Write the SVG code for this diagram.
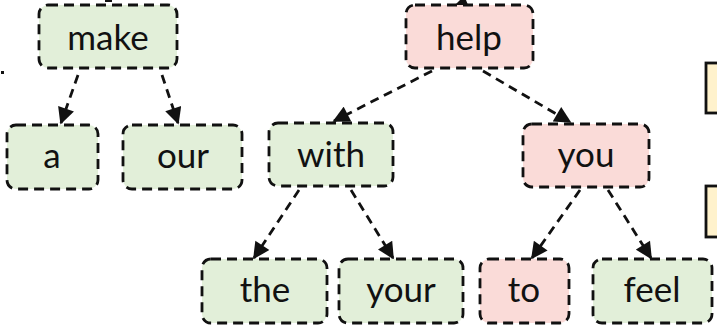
<svg xmlns="http://www.w3.org/2000/svg" width="717" height="325" viewBox="0 0 717 325">
<defs>
<style>
.box{stroke:#111;stroke-width:2.8;stroke-dasharray:10 6;}
.g{fill:#e2efd9;}
.p{fill:#fadbd8;}
.y{fill:#fff2cc;stroke:#111;stroke-width:2.8;}
.t{font-family:Lato,"Open Sans",sans-serif;font-size:35px;fill:#111;text-anchor:middle;}
.e{stroke:#111;stroke-width:2.8;stroke-dasharray:9 6;fill:none;marker-end:url(#ah);}
</style>
<marker id="ah" viewBox="0 0 10 10" refX="9" refY="5" markerWidth="6.5" markerHeight="6" orient="auto" markerUnits="strokeWidth">
<path d="M0,0 L10,5 L0,10 z" fill="#111"/>
</marker>
</defs>
<rect width="717" height="325" fill="#fff"/>
<g id="partial">
<path d="M455,5 L460,0 L466,0 L468,5 z" fill="#111"/>
<line x1="105" y1="1" x2="112" y2="1" stroke="#111" stroke-width="2"/>
<rect x="1" y="71" width="3" height="3" fill="#111"/>
<rect class="y" x="706" y="63" width="20" height="50"/>
<rect class="y" x="706" y="186" width="20" height="51"/>
</g>
<g id="edges">
<line class="e" x1="78" y1="75" x2="61" y2="123"/>
<line class="e" x1="162" y1="75" x2="178" y2="123"/>
<line class="e" x1="432" y1="71" x2="334" y2="121"/>
<line class="e" x1="483" y1="71" x2="570" y2="122"/>
<line class="e" x1="299" y1="190" x2="254" y2="258"/>
<line class="e" x1="351" y1="190" x2="393" y2="258"/>
<line class="e" x1="580" y1="190" x2="532" y2="258"/>
<line class="e" x1="608" y1="190" x2="651" y2="258"/>
</g>
<g id="make"><rect class="box g" x="39" y="5" width="138" height="63" rx="9"/><text class="t" x="108" y="50">make</text></g>
<g id="help"><rect class="box p" x="406" y="5" width="127" height="63" rx="9"/><text class="t" x="469" y="50">help</text></g>
<g id="a"><rect class="box g" x="7" y="125" width="91" height="64" rx="9"/><text class="t" x="52" y="168">a</text></g>
<g id="our"><rect class="box g" x="123" y="125" width="119" height="64" rx="9"/><text class="t" x="183" y="168">our</text></g>
<g id="with"><rect class="box g" x="269" y="123" width="124" height="63" rx="9"/><text class="t" x="331" y="167">with</text></g>
<g id="you"><rect class="box p" x="523" y="124" width="126" height="63" rx="9"/><text class="t" x="586" y="167">you</text></g>
<g id="the"><rect class="box g" x="202" y="259" width="125" height="64" rx="9"/><text class="t" x="265" y="302">the</text></g>
<g id="your"><rect class="box g" x="339" y="259" width="124" height="64" rx="9"/><text class="t" x="401" y="302">your</text></g>
<g id="to"><rect class="box p" x="480" y="259" width="89" height="64" rx="9"/><text class="t" x="524" y="302">to</text></g>
<g id="feel"><rect class="box g" x="593" y="259" width="119" height="64" rx="9"/><text class="t" x="652" y="302">feel</text></g>
</svg>
